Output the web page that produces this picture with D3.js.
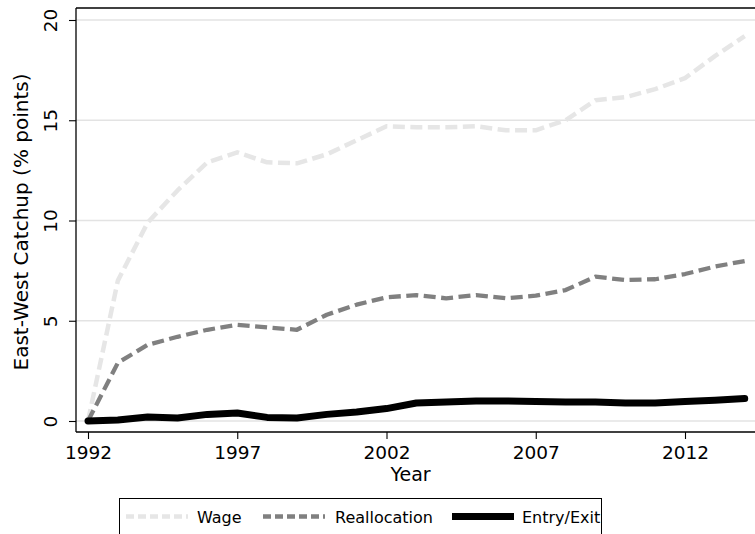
<!DOCTYPE html>
<html>
<head>
<meta charset="utf-8">
<script src="https://cdn.jsdelivr.net/npm/d3@7"></script>
<style>
  body { margin: 0; background: #fff; }
  svg { display: block; font-family: "DejaVu Sans", sans-serif; }
</style>
</head>
<body>
<svg id="chart" width="755" height="534"></svg>
<script>
const years = d3.range(1992, 2015);
const wage = [0, 7.0, 9.9, 11.5, 12.9, 13.4, 12.9, 12.85, 13.3, 14.0, 14.7, 14.65, 14.65, 14.7, 14.5, 14.5, 15.0, 16.0, 16.15, 16.55, 17.1, 18.2, 19.2];
const reallocation = [0, 2.9, 3.8, 4.2, 4.55, 4.8, 4.67, 4.55, 5.3, 5.8, 6.17, 6.28, 6.12, 6.28, 6.12, 6.25, 6.53, 7.2, 7.03, 7.07, 7.33, 7.7, 7.98];
const entryExit = [0, 0.05, 0.2, 0.15, 0.33, 0.4, 0.18, 0.15, 0.33, 0.45, 0.62, 0.9, 0.95, 1.0, 1.0, 0.97, 0.95, 0.95, 0.9, 0.9, 0.97, 1.03, 1.12];
const xTicks = [1992, 1997, 2002, 2007, 2012];
const yTicks = [0, 5, 10, 15, 20];

const svg = d3.select("#chart");
const plotLeft = 76, plotTop = 8, plotRight = 755, plotBottom = 432;

const x = d3.scaleLinear().domain([1992, 2012]).range([88, 685]);
const y = d3.scaleLinear().domain([0, 20]).range([421, 20]);

// gridlines
svg.append("g").selectAll("line")
    .data(yTicks)
    .join("line")
    .attr("x1", plotLeft).attr("x2", plotRight)
    .attr("y1", d => y(d)).attr("y2", d => y(d))
    .attr("stroke", "#e3e3e3")
    .attr("stroke-width", 1.5);

const series = [
    {name: "Wage", values: wage, color: "#e6e6e6", width: 4.5, dash: "12,5.5", legendDash: "8,4"},
    {name: "Reallocation", values: reallocation, color: "#808080", width: 4.3, dash: "12,5.5", legendDash: "8,4"},
    {name: "Entry/Exit", values: entryExit, color: "#000", width: 7, dash: null, legendDash: null}
];

const line = d3.line()
    .x((d, i) => x(years[i]))
    .y(d => y(d));

series.forEach(s => {
    svg.append("path")
        .datum(s.values)
        .attr("d", line)
        .attr("fill", "none")
        .attr("stroke", s.color)
        .attr("stroke-width", s.width)
        .attr("stroke-linecap", s.dash ? "butt" : "round")
        .attr("stroke-linejoin", "round")
        .attr("stroke-dasharray", s.dash);
});

// frame: top line, left axis, bottom axis
svg.append("line")
    .attr("x1", plotLeft).attr("x2", plotRight).attr("y1", plotTop).attr("y2", plotTop)
    .attr("stroke", "#000").attr("stroke-width", 1.3);

const xAxis = svg.append("g")
    .attr("transform", `translate(0,${plotBottom})`)
    .call(d3.axisBottom(x).tickValues(xTicks).tickFormat(d3.format("d")).tickSize(7).tickSizeOuter(0));
xAxis.select(".domain").attr("d", `M${plotLeft},0H${plotRight}`).attr("stroke-width", 1.3);
xAxis.selectAll(".tick line").attr("stroke-width", 1.1);
xAxis.selectAll(".tick text")
    .attr("font-size", 18.5)
    .attr("font-family", "DejaVu Sans")
    .attr("fill", "#000")
    .attr("dy", null)
    .attr("y", 27);

const yAxis = svg.append("g")
    .attr("transform", `translate(${plotLeft},0)`)
    .call(d3.axisLeft(y).tickValues(yTicks).tickSize(7).tickSizeOuter(0));
yAxis.select(".domain").attr("d", `M0,${plotTop}V${plotBottom}`).attr("stroke-width", 1.3);
yAxis.selectAll(".tick line").attr("stroke-width", 1.1);
yAxis.selectAll(".tick text")
    .attr("font-size", 18.5)
    .attr("font-family", "DejaVu Sans")
    .attr("fill", "#000")
    .attr("x", null).attr("dy", null)
    .attr("text-anchor", "middle")
    .attr("transform", "translate(-19,0) rotate(-90)");

svg.append("text")
    .attr("x", (plotLeft + plotRight) / 2 - 5).attr("y", 481)
    .attr("text-anchor", "middle")
    .attr("font-size", 19)
    .text("Year");

svg.append("text")
    .attr("transform", "translate(28,222) rotate(-90)")
    .attr("text-anchor", "middle")
    .attr("font-size", 20)
    .text("East-West Catchup (% points)");

// legend
svg.append("rect")
    .attr("x", 119.5).attr("y", 498.5)
    .attr("width", 482).attr("height", 45)
    .attr("fill", "#fff")
    .attr("stroke", "#000").attr("stroke-width", 1);

const legendPos = [
    {lx: 126, tx: 197},
    {lx: 263, tx: 335},
    {lx: 452, tx: 522}
];
series.forEach((s, i) => {
    const p = legendPos[i];
    svg.append("line")
        .attr("x1", p.lx).attr("x2", p.lx + 62)
        .attr("y1", 516.5).attr("y2", 516.5)
        .attr("stroke", s.color)
        .attr("stroke-width", s.width)
        .attr("stroke-dasharray", s.legendDash);
    svg.append("text")
        .attr("x", p.tx).attr("y", 523)
        .attr("font-size", 16)
        .text(s.name);
});
</script>
</body>
</html>
